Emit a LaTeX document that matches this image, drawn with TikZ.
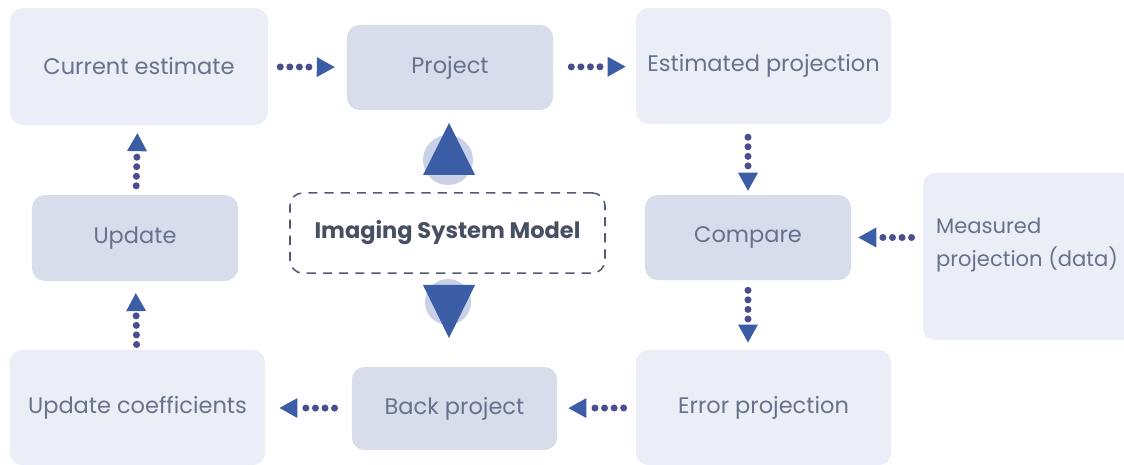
\documentclass[tikz,border=0pt]{standalone}
\usepackage{fontspec}
\setmainfont{Poppins}
\usepackage{tikz}
\usetikzlibrary{arrows.meta,positioning}
\definecolor{boxlight}{HTML}{EBEEF6}
\definecolor{boxdark}{HTML}{D7DDEB}
\definecolor{textc}{HTML}{66728C}
\definecolor{dotc}{HTML}{4A4E8E}
\definecolor{tipc}{HTML}{3B5DA6}
\definecolor{circc}{HTML}{C9D1E8}
\tikzstyle{stage} = [rectangle, rounded corners=9pt, draw=none, fill=boxlight, text=textc, text centered, font=\fontsize{16}{20}\selectfont, inner sep=0pt]
\tikzstyle{opbox} = [stage, fill=boxdark]
\tikzstyle{model} = [rectangle, rounded corners=9pt, draw=textc!80!black, dashed, dash pattern=on 6.5pt off 5pt, line width=1.1pt, fill=white, text=textc!70!black, font=\fontsize{16}{20}\selectfont\bfseries, minimum width=224pt, minimum height=57pt]
\tikzstyle{flow} = [draw=dotc, line width=5pt, line cap=round, dash pattern=on 0pt off 6.8pt, -{Triangle[length=12.8pt, width=14.2pt, line width=0pt, color=tipc]}]
\tikzstyle{bigtri} = [fill=tipc]
\tikzstyle{halo} = [fill=circc]

\begin{document}
\begin{tikzpicture}[x=0.025cm, y=-0.025cm]
\useasboundingbox (0,0) rectangle (1124,465);

% stages =============================

% top row
\node[stage, minimum width=183.5pt, minimum height=83pt] (cur) at (139,66.5) {Current estimate};
\node[opbox, minimum width=146.5pt, minimum height=60.5pt] (proj) at (450,67.5) {Project};
\node[stage, minimum width=181.5pt, minimum height=82.5pt] (est) at (763.5,66) {Estimated projection};

% middle row
\node[opbox, minimum width=146.5pt, minimum height=61pt] (upd) at (135,238) {Update};
\node[model] (ism) at (447.5,233) {Imaging System Model};
\node[opbox, minimum width=146.5pt, minimum height=60.5pt] (cmp) at (748,237.5) {Compare};
\node[stage, minimum width=151pt, minimum height=119pt] (meas) at (1029,256.5) {};
\node[text=textc, font=\fontsize{15}{24}\selectfont, align=left, anchor=west, inner sep=2pt] (meastxt) at (933,245) {Measured\\projection (data)};

% bottom row
\node[stage, minimum width=181.5pt, minimum height=82pt] (ucoef) at (137.5,407.5) {Update coefficients};
\node[opbox, minimum width=146pt, minimum height=59pt] (back) at (454.5,408.5) {Back project};
\node[stage, minimum width=181.5pt, minimum height=82pt] (err) at (763.5,407.5) {Error projection};

% model arrows
\fill[halo] (448,160) circle (25);
\fill[bigtri] (423,175) -- (475,175) -- (449,123) -- cycle;
\fill[halo] (448,302) circle (23);
\fill[bigtri] (423,285) -- (475,285) -- (449,338) -- cycle;

%edges

\path[flow, shorten <=8.5pt, shorten >=8.5pt] (cur) -- (proj);
\path[flow, shorten <=12.8pt, shorten >=7.1pt] (proj) -- (est);

\path[flow, shorten <=9.2pt, shorten >=2.8pt] (cmp.north |- est.south) -- (cmp.north);
\path[flow, shorten <=7.8pt, shorten >=5pt] (meas.west |- cmp.east) -- (cmp.east);
\path[flow, shorten <=7.1pt, shorten >=5pt] (cmp.south) -- (cmp.south |- err.north);

\path[flow, shorten <=8.5pt, shorten >=7.8pt] (err) -- (back);
\path[flow, shorten <=12.1pt, shorten >=10pt] (back) -- (ucoef);

\path[flow, shorten <=3.6pt, shorten >=8.5pt] (ucoef) -- (upd);
\path[flow, shorten <=6.4pt, shorten >=5.7pt] (upd) -- (cur);

\end{tikzpicture}
\end{document}
